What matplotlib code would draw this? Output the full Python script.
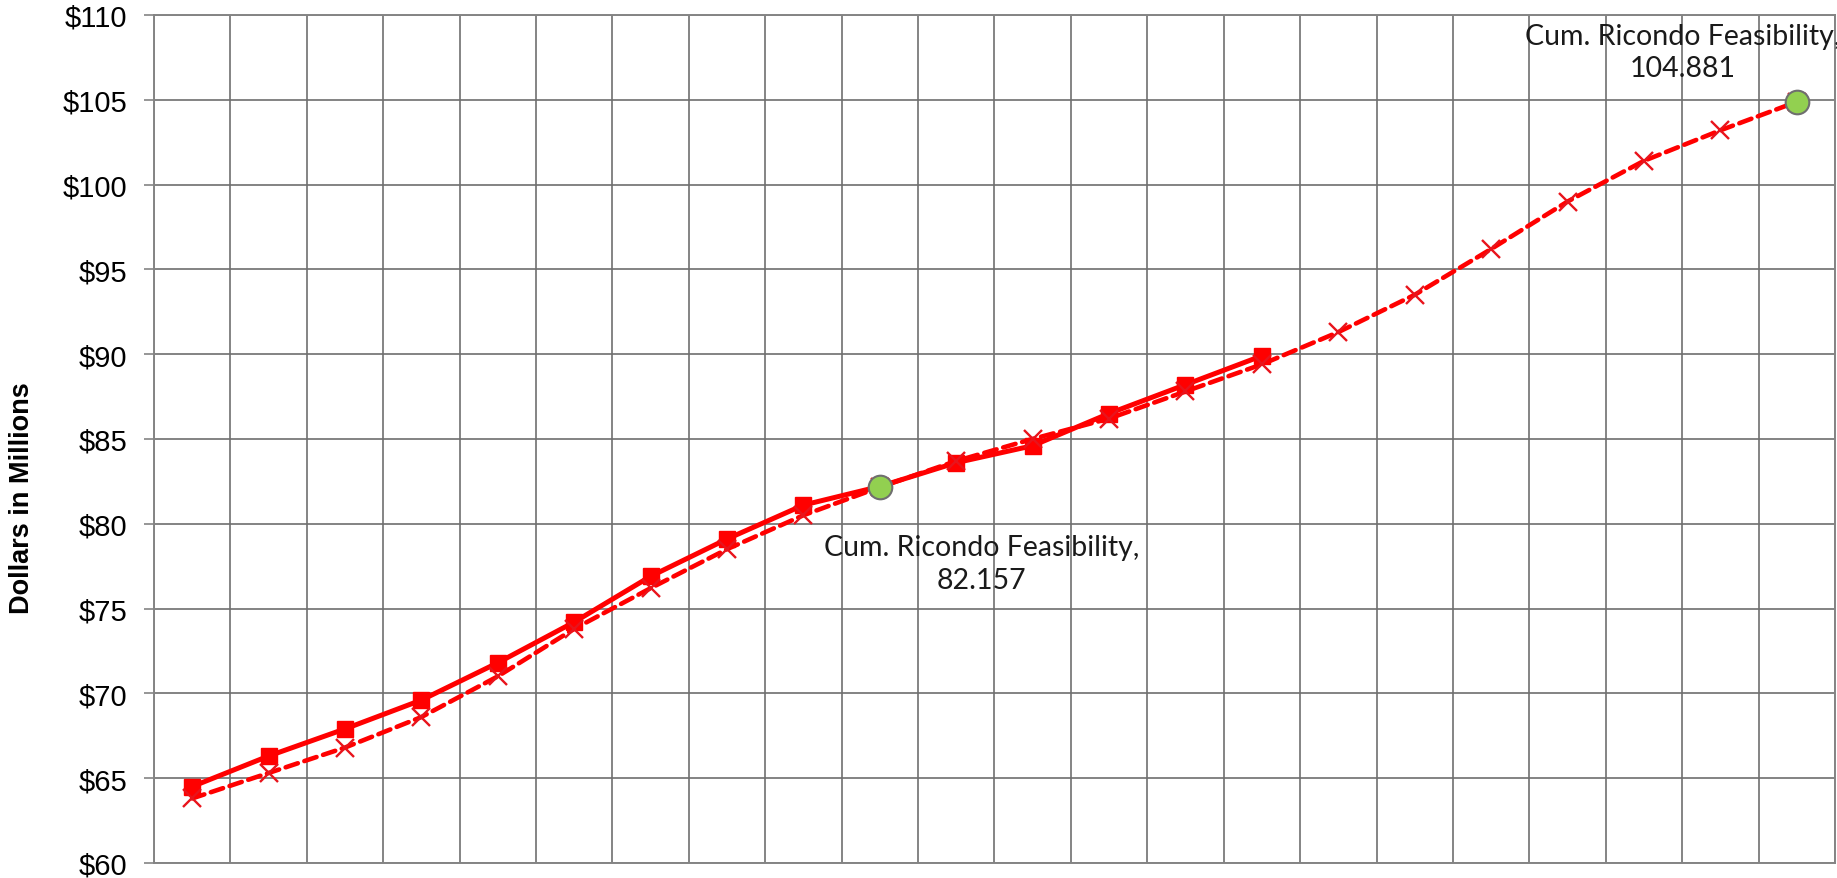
import numpy as np
import matplotlib.pyplot as plt
from matplotlib.ticker import FuncFormatter, MultipleLocator

# Data (dollars in millions), one point per category
categories = list(range(22))

# solid series with square markers (15 points)
actual = [64.5, 66.3, 67.9, 69.6, 71.8, 74.2, 76.9, 79.1, 81.1, 82.2,
          83.6, 84.6, 86.5, 88.2, 89.9]

# dashed series with x markers (22 points)
projected = [63.8, 65.3, 66.8, 68.6, 71.0, 73.8, 76.2, 78.5, 80.5, 82.157,
             83.7, 85.0, 86.2, 87.8, 89.4, 91.3, 93.5, 96.2, 99.0, 101.4,
             103.2, 104.881]

# Cum. Ricondo Feasibility points
ricondo_idx = [9, 21]
ricondo_val = [82.157, 104.881]
ricondo_name = "Cum. Ricondo Feasibility"

DPI = 100
fig = plt.figure(figsize=(18.37, 8.79), dpi=DPI)
fig.patch.set_facecolor('white')
ax = fig.add_axes([0.0838, 0.0172, 0.9151, 0.9646])

grid_col = '#848484'

# vertical gridlines sit between categories, like Excel's category axis
ax.set_xlim(-0.5, len(categories) - 0.5)
ax.set_xticks(np.arange(-0.5, len(categories), 1.0))
ax.set_xticklabels([])
ax.tick_params(axis='x', length=0)

ax.set_ylim(60, 110)
ax.yaxis.set_major_locator(MultipleLocator(5))
ax.yaxis.set_major_formatter(FuncFormatter(lambda v, p: f"${v:.0f}"))
ax.tick_params(axis='y', length=7, width=1.2, color=grid_col, pad=12,
               labelsize=21, labelfontfamily='Liberation Sans')

ax.grid(True, axis='x', color=grid_col, linewidth=1.4)
ax.grid(True, axis='y', color='#6e6e6e', linewidth=1.2)
ax.set_axisbelow(True)
for s in ax.spines.values():
    s.set_color(grid_col)
    s.set_linewidth(1.4)

# solid line first, dashed on top of it
ax.plot(range(len(actual)), actual, color='#ff0000', linewidth=3.6,
        marker='s', markersize=12, markeredgecolor='#ff0000', zorder=3,
        solid_capstyle='round')
ax.plot(range(len(projected)), projected, color='#ff0000', linewidth=3.3,
        linestyle=(0, (2.8, 1.5)), dash_capstyle='round',
        marker='x', markersize=13, markeredgewidth=1.7,
        markeredgecolor='#e8141c', zorder=4)
ax.plot(ricondo_idx, ricondo_val, linestyle='none', marker='o',
        markersize=17, markerfacecolor='#92d050', markeredgecolor='#6f6f6f',
        markeredgewidth=1.5, zorder=5)

# data labels
offsets = [(73, -55), (-82, 36)]
for i, v, off in zip(ricondo_idx, ricondo_val, offsets):
    ax.annotate(f"{ricondo_name},\n{v:g}", xy=(i, v), xytext=off,
                textcoords='offset points', ha='center', va='center',
                fontsize=20.5, family='Lato', linespacing=1.3,
                color='#1a1a1a', annotation_clip=False, zorder=6)

fig.text(0.012, 0.433, 'Dollars in Millions', rotation=90, ha='center',
         va='center', fontsize=19.5, fontweight='bold',
         family='Liberation Sans')

fig.savefig('out.png', dpi=DPI, facecolor='white')
